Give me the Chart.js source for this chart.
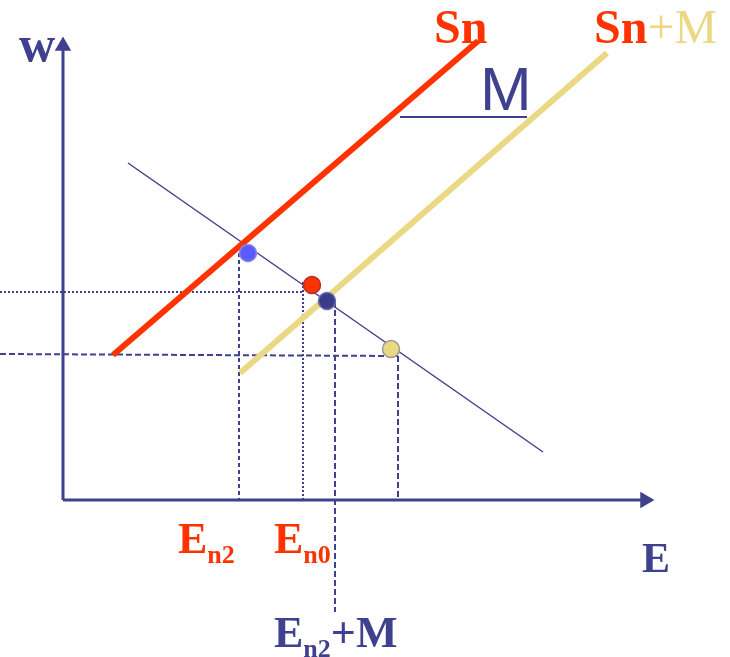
<!DOCTYPE html>
<html>
<head>
<meta charset="utf-8">
<script src="https://cdn.jsdelivr.net/npm/chart.js@4.4.1/dist/chart.umd.min.js"></script>
<style>
  html, body { margin: 0; padding: 0; background: #fff; }
  canvas { display: block; }
</style>
</head>
<body>
<canvas id="chart" width="730" height="657"></canvas>
<script>
// values in diagram units, origin at the axes corner
const snX = [50, 415];
const snY = [145, 459];
const snmX = [177, 544];
const snmY = [127, 447];
const demandX = [65, 480];
const demandY = [337, 48];
const mBarX = [337, 464];
const mBarY = [383, 383];

// equilibrium points: En2, En0, En2+M, shifted
const pointX = [185, 249, 264, 328];
const pointY = [247, 215, 199, 151];

// guide lines
const en0Level = 208;
const shiftLevel = [146, 144];
const en2X = 176, en0X = 240, en2mX = 272, shiftX = 335;
const yAxisTop = 454, xAxisEnd = 582;

const NAVY = '#3f418f';
const RED = '#ff3300';
const YELLOW = '#ebd884';

function seg(xs, ys) {
  return xs.map((x, i) => ({ x: x, y: ys[i] }));
}

const textPlugin = {
  id: 'labels',
  afterDatasetsDraw(chart) {
    const ctx = chart.ctx;
    ctx.save();
    ctx.textBaseline = 'alphabetic';
    ctx.textAlign = 'left';
    ctx.font = 'bold 50px "Liberation Serif"';
    ctx.fillStyle = NAVY;
    ctx.fillText('w', 19, 61);

    ctx.font = 'bold 48px "Liberation Serif"';
    ctx.fillStyle = RED;
    ctx.fillText('Sn', 434, 43);
    ctx.fillText('Sn', 594, 43);
    let w = ctx.measureText('Sn').width;
    ctx.fillStyle = YELLOW;
    ctx.font = '48px "Liberation Serif"';
    ctx.fillText('+M', 594 + w, 43);

    ctx.font = '62px "Liberation Sans"';
    ctx.fillStyle = NAVY;
    ctx.fillText('M', 480, 110);

    ctx.font = 'bold 42px "Liberation Serif"';
    ctx.fillText('E', 642, 572);

    function sub(x, y, main, s, rest, color) {
      ctx.fillStyle = color;
      ctx.font = 'bold 44px "Liberation Serif"';
      ctx.fillText(main, x, y);
      let xx = x + ctx.measureText(main).width;
      ctx.font = 'bold 26px "Liberation Serif"';
      ctx.fillText(s, xx, y + 10);
      xx += ctx.measureText(s).width;
      if (rest) {
        ctx.font = 'bold 44px "Liberation Serif"';
        ctx.fillText(rest, xx, y);
      }
    }
    sub(178, 553, 'E', 'n2', '', RED);
    sub(274, 553, 'E', 'n0', '', RED);
    sub(274, 647, 'E', 'n2', '+M', NAVY);
    ctx.restore();
  }
};

// listed bottom to top; reversed below so later entries draw on top
const datasets = [
  // axes
  { data: seg([0, 0], [0, yAxisTop]), borderColor: NAVY, borderWidth: 3 },
  { data: seg([0, xAxisEnd], [0, 0]), borderColor: NAVY, borderWidth: 3 },
  { data: [{ x: 0, y: yAxisTop }], pointStyle: 'triangle', rotation: 0, pointRadius: 9.5,
    backgroundColor: NAVY, borderColor: NAVY, borderWidth: 0, showLine: false },
  { data: [{ x: xAxisEnd, y: 0 }], pointStyle: 'triangle', rotation: 90, pointRadius: 9.5,
    backgroundColor: NAVY, borderColor: NAVY, borderWidth: 0, showLine: false },
  // guide lines
  { data: seg([-63, en0X], [en0Level, en0Level]), borderColor: NAVY, borderWidth: 2, borderDash: [2, 2] },
  { data: seg([en0X, en0X], [218, 0]), borderColor: NAVY, borderWidth: 2, borderDash: [2, 2] },
  { data: seg([en2X, en2X], [247, 0]), borderColor: NAVY, borderWidth: 2, borderDash: [4, 3] },
  { data: seg([-63, shiftX], shiftLevel), borderColor: NAVY, borderWidth: 2, borderDash: [6, 3] },
  { data: seg([shiftX, shiftX], [144, 0]), borderColor: NAVY, borderWidth: 2, borderDash: [6, 3] },
  { data: seg([en2mX, en2mX], [199, -112]), borderColor: NAVY, borderWidth: 2, borderDash: [6, 3] },
  // curves
  { data: seg(demandX, demandY), borderColor: NAVY, borderWidth: 1.5 },
  { data: seg(snmX, snmY), borderColor: YELLOW, borderWidth: 6 },
  { data: seg(snX, snY), borderColor: RED, borderWidth: 6 },
  { data: seg(mBarX, mBarY), borderColor: NAVY, borderWidth: 2 },
  // points
  { data: seg(pointX, pointY), showLine: false, pointRadius: 8.5, pointStyle: 'circle',
    pointBackgroundColor: ['#5b5bff', RED, '#3a3c88', YELLOW],
    pointBorderColor: ['#8a8ae0', '#b03030', '#6a6ab0', '#9a9a9a'],
    pointBorderWidth: 1.5 }
];

datasets.forEach(d => {
  if (d.showLine === undefined) d.showLine = true;
  if (d.pointRadius === undefined) d.pointRadius = 0;
  d.fill = false;
});
datasets.reverse();

new Chart(document.getElementById('chart'), {
  type: 'scatter',
  data: { datasets: datasets },
  options: {
    responsive: false,
    animation: false,
    layout: { padding: 0, autoPadding: false },
    plugins: { legend: { display: false }, tooltip: { enabled: false } },
    scales: {
      x: { type: 'linear', min: -63, max: 667, display: false },
      y: { type: 'linear', min: -157, max: 500, display: false }
    }
  },
  plugins: [textPlugin]
});
</script>
</body>
</html>
